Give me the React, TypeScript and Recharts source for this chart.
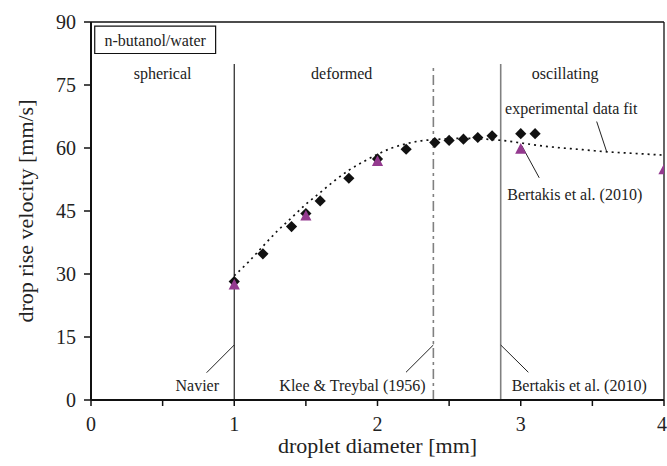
import React from 'react';
import {
  ComposedChart, XAxis, YAxis, Line, Scatter, ReferenceLine, ReferenceArea, ReferenceDot,
} from 'recharts';

// experimental data (black diamonds)
const expDiameter = [1.0, 1.2, 1.4, 1.5, 1.6, 1.8, 2.0, 2.2, 2.4, 2.5, 2.6, 2.7, 2.8, 3.0, 3.1];
const expVelocity = [28.2, 34.8, 41.3, 44.4, 47.4, 52.8, 57.4, 59.7, 61.3, 61.8, 62.1, 62.5, 62.9, 63.4, 63.4];

// Bertakis et al. (2010) (purple triangles)
const bertDiameter = [1.0, 1.5, 2.0, 3.0, 4.0];
const bertVelocity = [27.6, 44.0, 57.0, 59.9, 55.0];

// experimental data fit (dotted curve)
const fitDiameter = [1.0, 1.1, 1.2, 1.3, 1.4, 1.5, 1.6, 1.7, 1.8, 1.9, 2.0, 2.1, 2.2, 2.3, 2.4, 2.5, 2.6, 2.7, 2.8, 2.9, 3.0, 3.2, 3.4, 3.6, 3.8, 4.0];
const fitVelocity = [29.6, 32.9, 36.6, 40.2, 43.4, 46.6, 49.4, 52.2, 54.7, 56.7, 58.5, 60.0, 61.0, 61.7, 62.0, 62.2, 62.3, 62.2, 62.0, 61.7, 61.2, 60.3, 59.7, 59.1, 58.7, 58.3];

const xTicks = [0, 0.5, 1, 1.5, 2, 2.5, 3, 3.5, 4];
const yTicks = [0, 15, 30, 45, 60, 75, 90];

// regime boundaries
const navierX = 1.0;
const kleeX = 2.39;
const bertBoundX = 2.86;
const boundTop = 80;

const regimeLabels = [
  { text: 'spherical', x: 0.5, y: 77.7 },
  { text: 'deformed', x: 1.75, y: 77.7 },
  { text: 'oscillating', x: 3.31, y: 77.7 },
  { text: 'experimental data fit', x: 3.353, y: 69.4 },
  { text: 'Bertakis et al. (2010)', x: 3.377, y: 49.0 },
  { text: 'Navier', x: 0.742, y: 3.38 },
  { text: 'Klee & Treybal (1956)', x: 1.825, y: 3.38 },
  { text: 'Bertakis et al. (2010)', x: 3.408, y: 3.38 },
];

const leaders = [
  [[0.807, 6.5], [1.0, 13.1]],
  [[2.199, 6.6], [2.39, 13.1]],
  [[2.86, 13.1], [3.053, 6.6]],
  [[3.006, 60.6], [3.129, 52.9]],
  [[3.53, 66.3], [3.6, 59.1]],
];

const expData = expDiameter.map((x, i) => ({ x, y: expVelocity[i] }));
const bertData = bertDiameter.map((x, i) => ({ x, y: bertVelocity[i] }));
const fitData = fitDiameter.map((x, i) => ({ x, y: fitVelocity[i] }));

const FONT = '"Liberation Serif", "Times New Roman", serif';
const TXT = '#222';

const Diamond = (props: any) => {
  const { cx, cy } = props;
  const s = 5.6;
  return <path d={`M${cx},${cy - s}L${cx + s},${cy}L${cx},${cy + s}L${cx - s},${cy}Z`} fill="#111" />;
};

const Triangle = (props: any) => {
  const { cx, cy } = props;
  const w = 5.6;
  const h = 5.3;
  return <path d={`M${cx},${cy - h}L${cx + w},${cy + h}L${cx - w},${cy + h}Z`} fill="#943a8f" />;
};

export default function App() {
  return (
    <div style={{ position: 'absolute', left: 0, top: 0, width: 667, height: 466, background: '#fff' }}>
      <ComposedChart width={667} height={466} margin={{ top: 22, right: 3, left: 0, bottom: 0 }}>
        <XAxis
          type="number"
          dataKey="x"
          domain={[0, 4]}
          ticks={xTicks}
          allowDataOverflow
          height={66}
          tickSize={6}
          tickMargin={11}
          tickFormatter={(v: number) => (Number.isInteger(v) ? String(v) : '')}
          axisLine={{ stroke: '#111', strokeWidth: 2 }}
          tickLine={{ stroke: '#111', strokeWidth: 1.5 }}
          tick={{ fill: TXT, fontSize: 20, fontFamily: FONT }}
          label={{
            content: (p: any) => {
              const vb = p.viewBox || {};
              return (
                <text x={vb.x + vb.width / 2} y={vb.y + 53} textAnchor="middle" fill={TXT} fontSize={22} fontFamily={FONT}>
                  droplet diameter [mm]
                </text>
              );
            },
          }}
        />
        <YAxis
          type="number"
          dataKey="y"
          domain={[0, 90]}
          ticks={yTicks}
          allowDataOverflow
          width={91}
          tickSize={7}
          tickMargin={8}
          axisLine={{ stroke: '#111', strokeWidth: 2 }}
          tickLine={{ stroke: '#111', strokeWidth: 1.5 }}
          tick={{ fill: TXT, fontSize: 20, fontFamily: FONT }}
          label={{
            content: (p: any) => {
              const vb = p.viewBox || {};
              const cx = 33;
              const cy = vb.y + vb.height / 2;
              return (
                <text x={cx} y={cy} transform={`rotate(-90, ${cx}, ${cy})`} textAnchor="middle" fill={TXT} fontSize={22} fontFamily={FONT}>
                  drop rise velocity [mm/s]
                </text>
              );
            },
          }}
        />
        {/* frame */}
        <ReferenceLine y={90} stroke="#111" strokeWidth={1.3} />
        <ReferenceLine x={4} stroke="#111" strokeWidth={1.3} />

        {/* legend box */}
        <ReferenceArea
          x1={0.026}
          x2={0.87}
          y1={82.5}
          y2={89.0}
          fill="#fff"
          fillOpacity={1}
          stroke="#111"
          strokeWidth={1.2}
          label={{ value: 'n-butanol/water', position: 'center', fill: TXT, fontSize: 16, fontFamily: FONT }}
        />

        {/* regime boundaries */}
        <ReferenceLine segment={[{ x: navierX, y: 0 }, { x: navierX, y: boundTop }]} stroke="#222" strokeWidth={1.2} />
        <ReferenceLine segment={[{ x: kleeX, y: 0 }, { x: kleeX, y: boundTop }]} stroke="#808080" strokeWidth={1.6} strokeDasharray="10 4 3 4" />
        <ReferenceLine segment={[{ x: bertBoundX, y: 0 }, { x: bertBoundX, y: boundTop }]} stroke="#808080" strokeWidth={1.6} />

        {/* leader lines */}
        {leaders.map((s, i) => (
          <ReferenceLine
            key={'ld' + i}
            segment={[{ x: s[0][0], y: s[0][1] }, { x: s[1][0], y: s[1][1] }]}
            stroke="#222"
            strokeWidth={1}
          />
        ))}

        <Line
          data={fitData}
          dataKey="y"
          type="monotone"
          dot={false}
          stroke="#111"
          strokeWidth={1.7}
          strokeDasharray="2 4"
          isAnimationActive={false}
        />
        <Scatter data={expData} dataKey="y" shape={Diamond} isAnimationActive={false} />
        <Scatter data={bertData} dataKey="y" shape={Triangle} isAnimationActive={false} />

        {regimeLabels.map((l, i) => (
          <ReferenceDot
            key={'lb' + i}
            x={l.x}
            y={l.y}
            r={0}
            fill="none"
            stroke="none"
            label={{ value: l.text, position: 'center', fill: TXT, fontSize: 16, fontFamily: FONT }}
          />
        ))}
      </ComposedChart>
    </div>
  );
}
